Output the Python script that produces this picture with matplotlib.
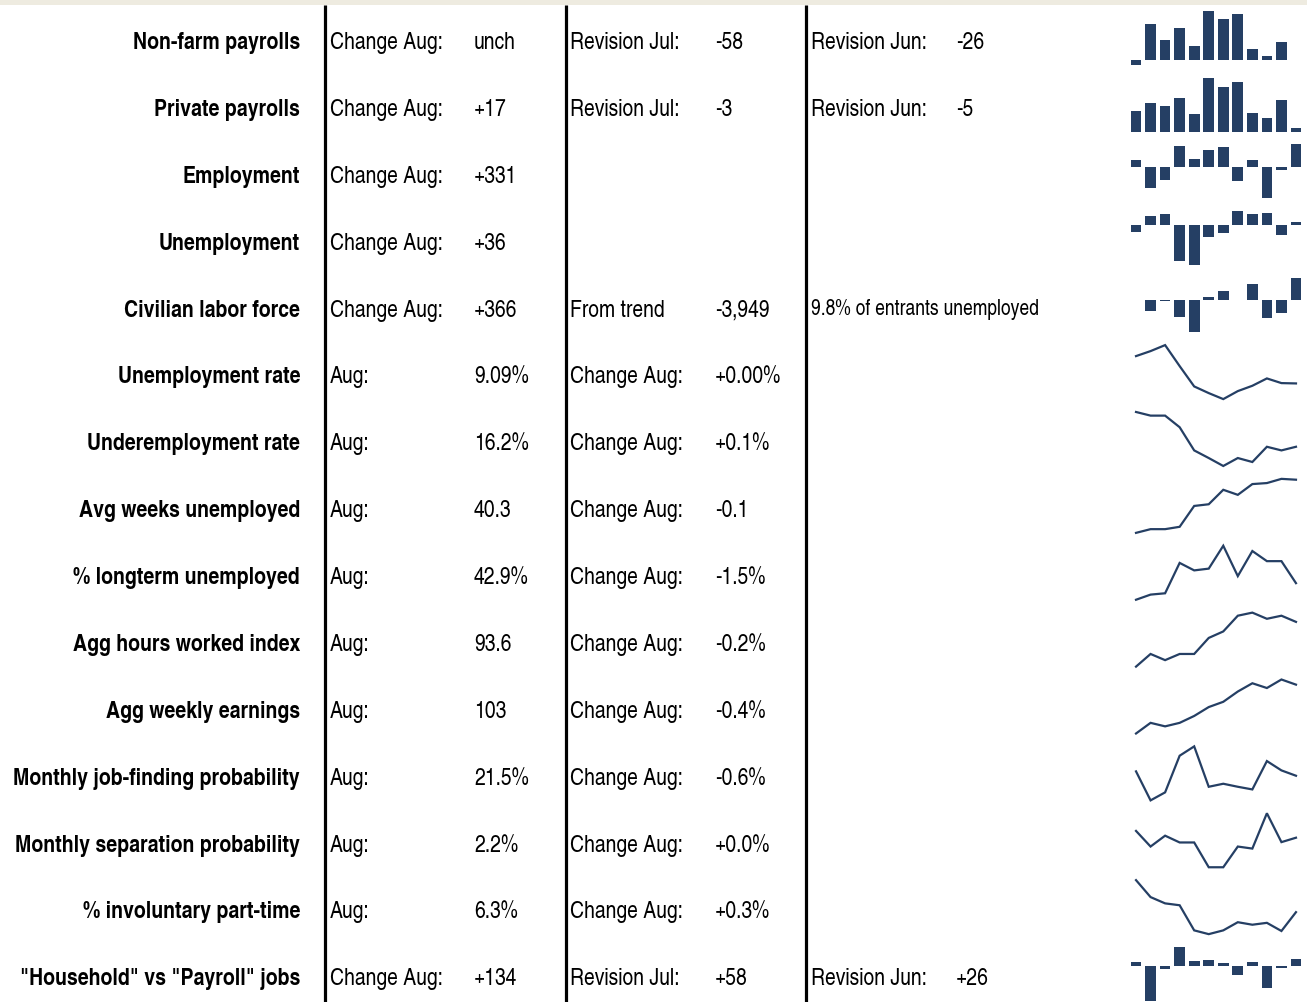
import matplotlib
matplotlib.use("Agg")
import matplotlib.pyplot as plt
from matplotlib import font_manager

# ---------------- data ----------------
labels = ["Non-farm payrolls", "Private payrolls", "Employment", "Unemployment",
          "Civilian labor force", "Unemployment rate", "Underemployment rate",
          "Avg weeks unemployed", "% longterm unemployed", "Agg hours worked index",
          "Agg weekly earnings", "Monthly job-finding probability",
          "Monthly separation probability", "% involuntary part-time",
          "\"Household\" vs \"Payroll\" jobs"]

col1_labels = ["Change Aug:"] * 5 + ["Aug:"] * 9 + ["Change Aug:"]
col1_values = ["unch", "+17", "+331", "+36", "+366", "9.09%", "16.2%", "40.3",
               "42.9%", "93.6", "103", "21.5%", "2.2%", "6.3%", "+134"]
col2_labels = ["Revision Jul:", "Revision Jul:", "", "", "From trend"] + ["Change Aug:"] * 9 + ["Revision Jul:"]
col2_values = ["-58", "-3", "", "", "-3,949", "+0.00%", "+0.1%", "-0.1", "-1.5%",
               "-0.2%", "-0.4%", "-0.6%", "+0.0%", "+0.3%", "+58"]
col3_labels = ["Revision Jun:", "Revision Jun:", "", "", "9.8% of entrants unemployed"] + [""] * 9 + ["Revision Jun:"]
col3_values = ["-26", "-5"] + [""] * 12 + ["+26"]

# sparkline series (Sep 2010 - Aug 2011)
nonfarm = [-24, 171, 93, 152, 68, 235, 194, 217, 53, 20, 85, 0]
private = [102, 139, 123, 163, 85, 264, 219, 243, 92, 65, 152, 17]
employment = [110, -300, -178, 302, 117, 250, 291, -190, 105, -445, -38, 331]
unemployment = [-107, 138, 168, -566, -627, -189, -128, 204, 168, 173, -153, 36]
labor_force = [3, -175, -5, -273, -530, 55, 158, -2, 268, -290, -208, 366]
unemp_rate = [9.50, 9.575, 9.665, 9.35, 9.045, 8.945, 8.855, 8.975, 9.055, 9.165, 9.095, 9.09]
underemp_rate = [17.25, 17.14, 17.14, 16.79, 16.09, 15.86, 15.62, 15.86, 15.74, 16.2, 16.09, 16.2]
avg_weeks = [33.98, 34.42, 34.42, 34.7, 37.18, 37.38, 39.1, 38.5, 39.78, 39.9, 40.4, 40.3]
longterm = [41.77, 42.12, 42.21, 44.28, 43.77, 43.89, 45.45, 43.38, 45.09, 44.4, 44.4, 42.9]
agg_hours = [92.15, 92.56, 92.36, 92.56, 92.56, 93.08, 93.29, 93.8, 93.9, 93.7, 93.8, 93.6]
agg_earnings = [99.1, 99.95, 99.67, 99.95, 100.5, 101.21, 101.63, 102.45, 103.11, 102.73, 103.41, 103.0]
job_finding = [21.99, 18.73, 19.63, 23.75, 24.8, 20.26, 20.6, 20.26, 19.96, 23.15, 22.1, 21.5]
separation = [2.24, 2.148, 2.212, 2.172, 2.172, 2.026, 2.026, 2.148, 2.136, 2.344, 2.174, 2.2]
involuntary = [6.81, 6.54, 6.44, 6.41, 6.01, 5.95, 6.01, 6.14, 6.10, 6.13, 6.0, 6.3]
household_vs_payroll = [73, -650, -61, 354, 92, 110, 61, -165, 79, -415, -37, 134]

spark_series = [nonfarm, private, employment, unemployment, labor_force, unemp_rate,
                underemp_rate, avg_weeks, longterm, agg_hours, agg_earnings,
                job_finding, separation, involuntary, household_vs_payroll]
spark_kinds = ["bar"] * 5 + ["line"] * 9 + ["bar"]

# ---------------- style / layout ----------------
avail = {f.name for f in font_manager.fontManager.ttflist}
FAM = [f for f in ["TeX Gyre Heros Cn", "Liberation Sans Narrow", "Liberation Sans"] if f in avail] + ["DejaVu Sans"]
plt.rcParams["font.family"] = FAM

W, H = 1307, 1003
NAVY = "#253f64"
first_base = 49.0
row_step = 66.88
label_x = 300
cols_x = [330, 474, 570, 715, 811, 956]
sep_x = [324.5, 565.5, 806.0]

fig = plt.figure(figsize=(W / 100, H / 100), dpi=100)
fig.patch.set_facecolor("white")
renderer = fig.canvas.get_renderer()


def fit_size(text, target_px, **kw):
    t = fig.text(0, 0, text, fontsize=20, **kw)
    w = t.get_window_extent(renderer).width
    t.remove()
    return 20 * target_px / w


FS_BOLD = fit_size("Non-farm payrolls", 167, fontweight="bold")
FS_REG = fit_size("Change Aug:", 113)
FS_SMALL = fit_size("9.8% of entrants unemployed", 228)

ax0 = fig.add_axes([0, 0, 1, 1])
ax0.set_xlim(0, W)
ax0.set_ylim(H, 0)
ax0.axis("off")

ax0.axhspan(0, 5.5, color="#eeebe0", lw=0)
ax0.vlines(sep_x, 6, H, color="black", lw=2.3)

for i, lab in enumerate(labels):
    by = first_base + i * row_step
    ax0.text(label_x, by, lab, ha="right", va="baseline", fontsize=FS_BOLD,
             fontweight="bold", color="black")
    ax0.text(cols_x[0], by, col1_labels[i], ha="left", va="baseline", fontsize=FS_REG)
    ax0.text(cols_x[1], by, col1_values[i], ha="left", va="baseline", fontsize=FS_REG)
    if col2_labels[i]:
        ax0.text(cols_x[2], by, col2_labels[i], ha="left", va="baseline", fontsize=FS_REG)
    if col2_values[i]:
        ax0.text(cols_x[3], by, col2_values[i], ha="left", va="baseline", fontsize=FS_REG)
    if col3_labels[i]:
        small = col3_labels[i].startswith("9.8%")
        ax0.text(cols_x[4], by - (1.5 if small else 0), col3_labels[i], ha="left", va="baseline",
                 fontsize=FS_SMALL if small else FS_REG)
    if col3_values[i]:
        ax0.text(cols_x[5], by, col3_values[i], ha="left", va="baseline", fontsize=FS_REG)

# sparklines
sp_left, sp_width = 1128.75, 174.5
sp_h = 54.0
for i, (vals, kind) in enumerate(zip(spark_series, spark_kinds)):
    center = first_base + i * row_step - 8.8 - 1.5
    bottom = 1 - (center + sp_h / 2) / H
    ax = fig.add_axes([sp_left / W, bottom, sp_width / W, sp_h / H])
    ax.axis("off")
    x = list(range(len(vals)))
    if kind == "bar":
        ax.bar(x, vals, width=0.74, color=NAVY, lw=0)
        ax.set_ylim(min(min(vals), 0), max(max(vals), 0))
    else:
        ax.plot(x, vals, color=NAVY, lw=1.6, clip_on=False, solid_joinstyle="miter")
        ax.set_ylim(min(vals), max(vals))
    ax.set_xlim(-0.5, len(vals) - 0.5)

fig.savefig("out.png", dpi=100)
